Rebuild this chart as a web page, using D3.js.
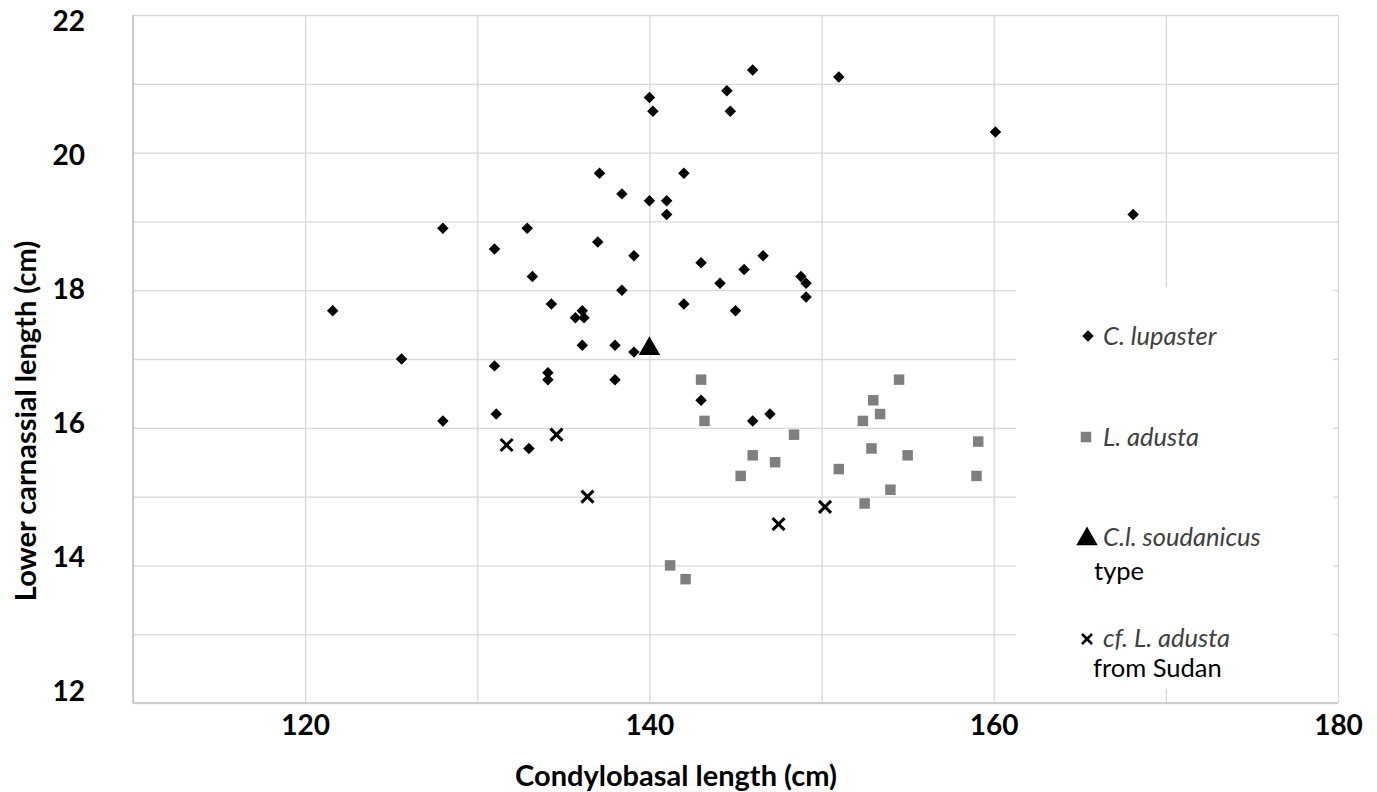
<!DOCTYPE html>
<html>
<head>
<meta charset="utf-8">
<script src="https://cdn.jsdelivr.net/npm/d3@7"></script>
<style>
  body { margin: 0; background: #fff; }
  text { font-family: Lato, "Open Sans", sans-serif; }
  .tick-label { font-weight: bold; font-size: 28px; fill: #000; }
  .axis-title { font-weight: bold; font-size: 29px; fill: #000; }
  .legend-sp { font-style: italic; font-size: 25.5px; fill: #404040; }
  .legend-note { font-size: 25.5px; fill: #000; }
</style>
</head>
<body>
<div id="scatter"></div>
<script>
var svgWidth = 1377;
var svgHeight = 792;

var margin = { top: 15, right: 39, bottom: 89, left: 133 };
var width = svgWidth - margin.left - margin.right;
var height = svgHeight - margin.top - margin.bottom;

// C. lupaster (condylobasal, lower carnassial)
var lupasterX = [121.6, 125.6, 128.0, 128.0, 131.0, 131.0, 131.1, 132.9, 133.2, 133.0,
                 134.1, 134.1, 134.3, 135.7, 136.1, 136.2, 136.1, 137.0, 137.1, 138.0,
                 138.0, 138.4, 138.4, 139.1, 139.1, 140.0, 140.0, 140.2, 141.0, 141.0,
                 142.0, 142.0, 143.0, 143.0, 144.1, 144.5, 144.7, 145.0, 145.5, 146.0,
                 146.0, 146.6, 147.0, 148.8, 149.1, 149.1, 151.0, 160.1, 168.1];
var lupasterY = [17.7, 17.0, 18.9, 16.1, 18.6, 16.9, 16.2, 18.9, 18.2, 15.7,
                 16.8, 16.7, 17.8, 17.6, 17.7, 17.6, 17.2, 18.7, 19.7, 17.2,
                 16.7, 19.4, 18.0, 18.5, 17.1, 19.3, 20.8, 20.6, 19.3, 19.1,
                 19.7, 17.8, 18.4, 16.4, 18.1, 20.9, 20.6, 17.7, 18.3, 21.2,
                 16.1, 18.5, 16.2, 18.2, 18.1, 17.9, 21.1, 20.3, 19.1];

// L. adusta
var adustaX = [141.2, 142.1, 143.0, 143.2, 145.3, 146.0, 147.3, 148.4, 151.0, 152.4,
               152.5, 152.9, 153.0, 153.4, 154.0, 154.5, 155.0, 159.0, 159.1];
var adustaY = [14.0, 13.8, 16.7, 16.1, 15.3, 15.6, 15.5, 15.9, 15.4, 16.1,
               14.9, 15.7, 16.4, 16.2, 15.1, 16.7, 15.6, 15.3, 15.8];

// C.l. soudanicus type
var typeX = [140.0];
var typeY = [17.15];

// cf. L. adusta from Sudan
var sudanX = [131.7, 134.6, 136.4, 147.5, 150.2];
var sudanY = [15.75, 15.9, 15.0, 14.6, 14.85];

var xTicks = [120, 140, 160, 180];
var yTicks = [12, 14, 16, 18, 20, 22];

var svg = d3.select("#scatter")
  .append("svg")
  .attr("width", svgWidth)
  .attr("height", svgHeight);

var chartGroup = svg.append("g")
  .attr("transform", `translate(${margin.left}, ${margin.top})`);

var xLinearScale = d3.scaleLinear().domain([110, 180]).range([0, width]);
var yLinearScale = d3.scaleLinear().domain([12, 22]).range([height, 0]);
// the value labels sit slightly inside the gridline span in the original
var yLabelScale = d3.scaleLinear().domain([12, 22]).range([height - 11, 7]);

// gridlines every 10 / every 1
chartGroup.append("g")
  .call(d3.axisBottom(xLinearScale).tickValues(d3.range(110, 181, 10)).tickSize(height).tickFormat(""))
  .call(g => g.select(".domain").remove())
  .call(g => g.selectAll("line").attr("stroke", "#d9d9d9").attr("stroke-width", 1.3));

chartGroup.append("g")
  .call(d3.axisLeft(yLinearScale).tickValues(d3.range(12, 22.5, 1)).tickSize(-width).tickFormat(""))
  .call(g => g.select(".domain").remove())
  .call(g => g.selectAll("line").attr("stroke", "#d9d9d9").attr("stroke-width", 1.3));

// axis lines
chartGroup.append("line")
  .attr("x1", 0).attr("x2", 0).attr("y1", 0).attr("y2", height)
  .attr("stroke", "#c4c4c4").attr("stroke-width", 1.6);
chartGroup.append("line")
  .attr("x1", 0).attr("x2", width).attr("y1", height).attr("y2", height)
  .attr("stroke", "#c4c4c4").attr("stroke-width", 1.6);

// tick labels
var bottomAxis = d3.axisBottom(xLinearScale).tickValues(xTicks).tickSize(0).tickPadding(12);
chartGroup.append("g")
  .attr("transform", `translate(0, ${height})`)
  .call(bottomAxis)
  .call(g => g.select(".domain").remove())
  .selectAll("text")
  .attr("class", "tick-label")
  .attr("font-family", null).attr("font-size", null);

var leftAxis = d3.axisLeft(yLabelScale).tickValues(yTicks).tickSize(0).tickPadding(48);
chartGroup.append("g")
  .call(leftAxis)
  .call(g => g.select(".domain").remove())
  .selectAll("text")
  .attr("class", "tick-label")
  .attr("font-family", null).attr("font-size", null);

// axis titles
chartGroup.append("text")
  .attr("class", "axis-title")
  .attr("transform", "rotate(-90)")
  .attr("x", -(421 - margin.top))
  .attr("y", 36 - margin.left)
  .attr("text-anchor", "middle")
  .text("Lower carnassial length (cm)");

chartGroup.append("text")
  .attr("class", "axis-title")
  .attr("x", 676 - margin.left)
  .attr("y", 786 - margin.top)
  .attr("text-anchor", "middle")
  .text("Condylobasal length (cm)");

// markers
var diamond = d3.symbol(d3.symbolSquare, 66);
var square = d3.symbol(d3.symbolSquare, 110);
var triangle = d3.symbol(d3.symbolTriangle, 200);
var crossType = {
  draw: function(context, size) {
    var r = Math.sqrt(size) / 2;
    context.moveTo(-r, -r); context.lineTo(r, r);
    context.moveTo(r, -r); context.lineTo(-r, r);
  }
};
var cross = d3.symbol(crossType, 144);

function pairs(xs, ys) {
  return xs.map((x, i) => ({ x: x, y: ys[i] }));
}

chartGroup.append("g").selectAll("path")
  .data(pairs(adustaX, adustaY))
  .enter()
  .append("path")
  .attr("d", square)
  .attr("transform", d => `translate(${xLinearScale(d.x)}, ${yLinearScale(d.y)})`)
  .attr("fill", "#7f7f7f");

chartGroup.append("g").selectAll("path")
  .data(pairs(lupasterX, lupasterY))
  .enter()
  .append("path")
  .attr("d", diamond)
  .attr("transform", d => `translate(${xLinearScale(d.x)}, ${yLinearScale(d.y)}) rotate(45)`)
  .attr("fill", "#000");

chartGroup.append("g").selectAll("path")
  .data(pairs(sudanX, sudanY))
  .enter()
  .append("path")
  .attr("d", cross)
  .attr("transform", d => `translate(${xLinearScale(d.x)}, ${yLinearScale(d.y)})`)
  .attr("fill", "none")
  .attr("stroke", "#000")
  .attr("stroke-width", 3);

chartGroup.append("g").selectAll("path")
  .data(pairs(typeX, typeY))
  .enter()
  .append("path")
  .attr("d", triangle)
  .attr("transform", d => `translate(${xLinearScale(d.x)}, ${yLinearScale(d.y)})`)
  .attr("fill", "#000");

// legend (white box over the gridlines)
var legend = svg.append("g");
legend.append("rect")
  .attr("x", 1016).attr("y", 287)
  .attr("width", 317).attr("height", 402)
  .attr("fill", "#fff");

legend.append("path").attr("d", diamond)
  .attr("transform", "translate(1088, 336) rotate(45)").attr("fill", "#000");
legend.append("text").attr("class", "legend-sp")
  .attr("x", 1103).attr("y", 345).text("C. lupaster");

legend.append("path").attr("d", square)
  .attr("transform", "translate(1086, 437)").attr("fill", "#7f7f7f");
legend.append("text").attr("class", "legend-sp")
  .attr("x", 1103).attr("y", 446).text("L. adusta");

legend.append("path").attr("d", triangle)
  .attr("transform", "translate(1087, 539)").attr("fill", "#000");
legend.append("text").attr("class", "legend-sp")
  .attr("x", 1103).attr("y", 546).text("C.l. soudanicus");
legend.append("text").attr("class", "legend-note")
  .attr("x", 1094).attr("y", 580).text("type");

legend.append("path").attr("d", d3.symbol(crossType, 100))
  .attr("transform", "translate(1087, 639)")
  .attr("fill", "none").attr("stroke", "#000").attr("stroke-width", 2.6);
legend.append("text").attr("class", "legend-sp")
  .attr("x", 1103).attr("y", 647).text("cf. L. adusta");
legend.append("text").attr("class", "legend-note")
  .attr("x", 1093).attr("y", 677).text("from Sudan");
</script>
</body>
</html>
